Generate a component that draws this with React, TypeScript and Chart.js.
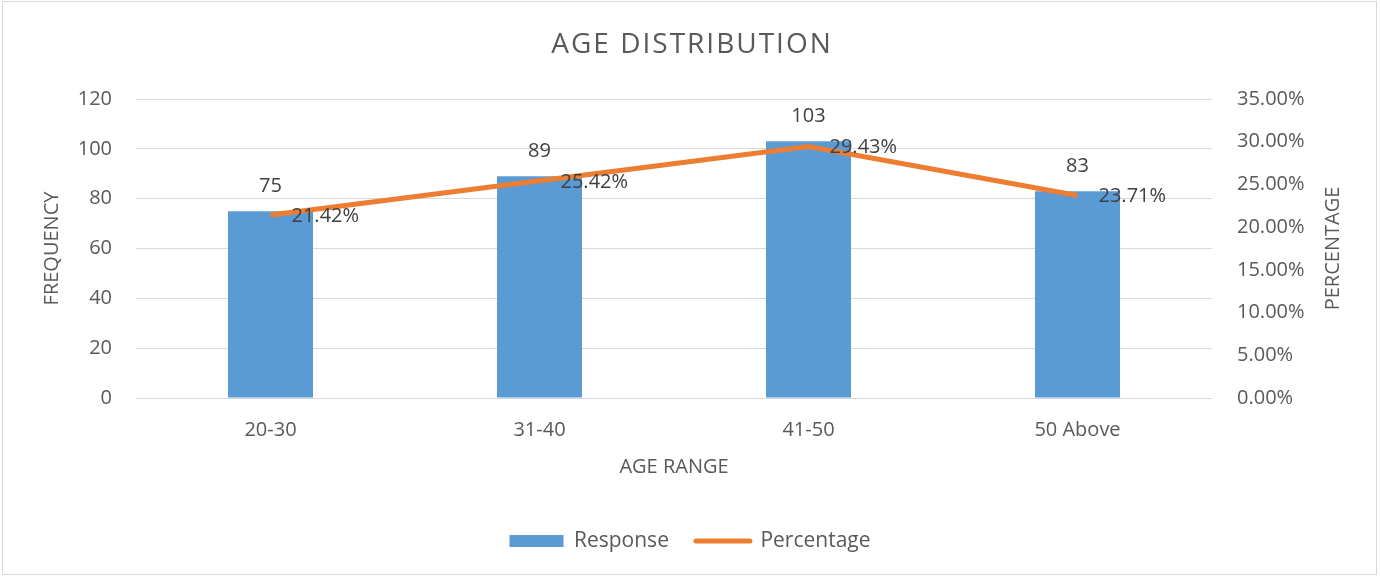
import React, { useEffect, useRef } from "react";
import { Chart, registerables } from "chart.js";

Chart.register(...registerables);

const categories = ["20-30", "31-40", "41-50", "50 Above"];
const responseValues = [75, 89, 103, 83];
const percentageValues = [21.42, 25.42, 29.43, 23.71];

const FONT = "'Open Sans', Lato, sans-serif";
const TEXT = "#595959";
const GRID = "#d9d9d9";
const TITLE = "AGE DISTRIBUTION";

const labelPlugin = {
  id: "valueLabels",
  afterDatasetsDraw(chart: any) {
    const ctx = chart.ctx;
    ctx.save();
    ctx.font = `20px ${FONT}`;
    ctx.fillStyle = "#404040";
    const barMeta = chart.getDatasetMeta(0);
    barMeta.data.forEach((el: any, i: number) => {
      ctx.textAlign = "center";
      ctx.textBaseline = "middle";
      ctx.fillText(String(responseValues[i]), el.x, el.y - 25);
    });
    const lineMeta = chart.getDatasetMeta(1);
    lineMeta.data.forEach((el: any, i: number) => {
      ctx.textAlign = "left";
      ctx.textBaseline = "middle";
      ctx.fillText(percentageValues[i].toFixed(2) + "%", el.x + 21, el.y + 1);
    });
    ctx.restore();

    // chart title with slight letter spacing
    ctx.save();
    ctx.font = `28px ${FONT}`;
    ctx.fillStyle = TEXT;
    (ctx as any).letterSpacing = "2px";
    ctx.textAlign = "left";
    ctx.textBaseline = "middle";
    const w = ctx.measureText(TITLE).width;
    ctx.fillText(TITLE, 692 - w / 2, 45);
    ctx.restore();

    // right axis title, reading bottom-to-top
    const a = chart.chartArea;
    ctx.save();
    ctx.font = `20px ${FONT}`;
    ctx.fillStyle = TEXT;
    ctx.translate(1333, (a.top + a.bottom) / 2);
    ctx.rotate(-Math.PI / 2);
    ctx.textAlign = "center";
    ctx.textBaseline = "middle";
    ctx.fillText("PERCENTAGE", 0, 0);
    ctx.restore();
  },
};

export default function App() {
  const ref = useRef<HTMLCanvasElement | null>(null);
  useEffect(() => {
    if (!ref.current) return;
    const chart = new Chart(ref.current, {
      type: "bar",
      data: {
        labels: categories,
        datasets: [
          {
            type: "bar",
            label: "Response",
            data: responseValues,
            backgroundColor: "#5B9BD5",
            borderWidth: 0,
            yAxisID: "y",
            order: 1,
            categoryPercentage: 1,
            barPercentage: 0.316,
          },
          {
            type: "line",
            label: "Percentage",
            data: percentageValues,
            borderColor: "#ED7D31",
            backgroundColor: "#ED7D31",
            borderWidth: 5,
            pointRadius: 0,
            tension: 0,
            yAxisID: "y1",
            order: 0,
          } as any,
        ],
      },
      options: {
        animation: false,
        responsive: false,
        maintainAspectRatio: false,
        layout: { padding: { top: 0, left: 0, right: 0, bottom: 15.5 } },
        plugins: {
          tooltip: { enabled: false },
          title: {
            display: true,
            text: TITLE,
            color: "rgba(0,0,0,0)",
            font: { family: FONT, size: 27, weight: "normal" },
            padding: { top: 30.8, bottom: 35.8 },
          },
          legend: {
            position: "bottom",
            labels: {
              color: TEXT,
              font: { family: FONT, size: 21 },
              usePointStyle: true,
              pointStyleWidth: 54,
              boxHeight: 12,
              padding: 27,
              generateLabels: (c: any) => {
                const items = Chart.defaults.plugins.legend.labels.generateLabels(c);
                items.sort((p: any, q: any) => p.datasetIndex - q.datasetIndex);
                return items.map((it: any) => {
                  if (it.datasetIndex === 0) {
                    return { ...it, pointStyle: "rect", fillStyle: "#5B9BD5", strokeStyle: "#5B9BD5", lineWidth: 0 };
                  }
                  return { ...it, pointStyle: "line", strokeStyle: "#ED7D31", fillStyle: "#ED7D31", lineWidth: 5, lineCap: "round" };
                });
              },
            },
          },
        },
        scales: {
          x: {
            grid: { display: false, drawTicks: false },
            border: { display: false },
            ticks: { color: TEXT, font: { family: FONT, size: 20 }, padding: 20 },
            title: {
              display: true,
              text: "AGE RANGE",
              color: TEXT,
              font: { family: FONT, size: 20 },
              padding: { top: 0, bottom: 24.5 },
            },
            afterFit: (s: any) => {
              s.height = 105.5;
            },
          },
          y: {
            position: "left",
            min: 0,
            max: 120,
            ticks: { stepSize: 20, color: TEXT, font: { family: FONT, size: 20 }, padding: 24 },
            grid: { color: GRID, lineWidth: 1, drawTicks: false },
            border: { display: false },
            title: {
              display: true,
              text: "FREQUENCY",
              color: TEXT,
              font: { family: FONT, size: 20 },
              padding: { top: 40, bottom: 0 },
            },
            afterFit: (s: any) => {
              s.width = 136;
            },
          },
          y1: {
            position: "right",
            min: 0,
            max: 35,
            ticks: {
              stepSize: 5,
              color: TEXT,
              font: { family: FONT, size: 20 },
              padding: 25,
              callback: (v: any) => Number(v).toFixed(2) + "%",
            },
            grid: { display: false, drawTicks: false },
            border: { display: false },
            title: { display: false },
            afterFit: (s: any) => {
              s.width = 168;
            },
          },
        },
      },
      plugins: [labelPlugin],
    });
    return () => chart.destroy();
  }, []);

  return (
    <div style={{ position: "absolute", left: 0, top: 0, width: 1380, height: 577, background: "#fff" }}>
      <canvas ref={ref} width={1380} height={577} style={{ display: "block" }} />
      <div
        style={{
          position: "absolute",
          left: 2,
          top: 1,
          width: 1375,
          height: 574,
          border: "1px solid #d9d9d9",
          boxSizing: "border-box",
          pointerEvents: "none",
        }}
      />
    </div>
  );
}
